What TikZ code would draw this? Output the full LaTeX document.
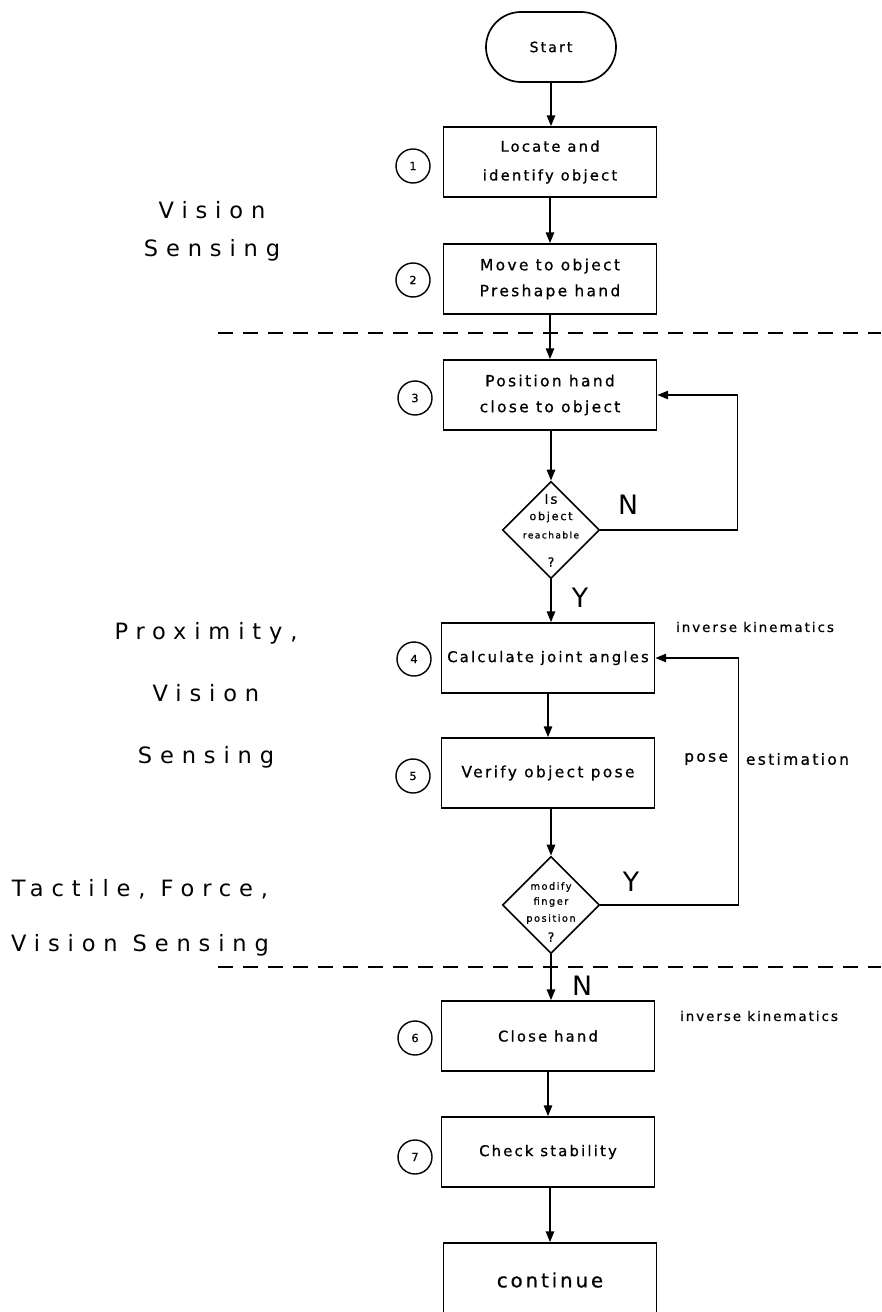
\documentclass[tikz,border=0pt]{standalone}
\usepackage{fontspec}
\setmainfont{DejaVu Sans}[LetterSpace=15,FakeBold=0.8]
\newfontfamily\sidefont{DejaVu Sans}[LetterSpace=35]
\usetikzlibrary{arrows.meta,shapes.geometric,calc}

\begin{document}
\begin{tikzpicture}[x=0.025cm,y=-0.025cm,
  box/.style={draw,line width=1.2pt,minimum width=5.325cm,minimum height=1.75cm,align=center,inner sep=0pt},
  dec/.style={draw,diamond,aspect=1,line width=1.2pt,minimum width=2.43cm,minimum height=2.43cm,inner sep=0pt},
  num/.style={draw,circle,line width=1pt,minimum size=0.85cm,inner sep=0pt,font=\fontsize{8}{8}\selectfont},
  arr/.style={-{Triangle[length=2.7mm,width=2.1mm]},line width=1.1pt},
  sep/.style={line width=1.1pt,dash pattern=on 0.375cm off 0.25cm},
  side/.style={align=center},
  yn/.style={font=\sidefont\fontsize{19}{19}\selectfont}]
\useasboundingbox (0,0) rectangle (881,1312);
\clip (0,0) rectangle (881,1312);

% Schritte
\node[box,rounded corners=0.875cm,minimum width=3.25cm,font=\fontsize{10}{12}\selectfont] (start) at (551,47) {Start};
\node[box,font=\fontsize{10.5}{20.5}\selectfont] (locate) at (550,162) {Locate and\\identify object};
\node[box,font=\fontsize{11}{18.4}\selectfont] (move) at (550,279) {Move to object\\Preshape hand};
\node[box,font=\fontsize{11}{18.4}\selectfont] (pos) at (550,395) {Position hand\\close to object};
\node[dec] (reach) at (551,530) {};
\node[box,font=\fontsize{10.5}{12}\selectfont] (calc) at (548,658) {Calculate joint angles};
\node[box,font=\fontsize{11}{12}\selectfont] (verify) at (548,773) {Verify object pose};
\node[dec] (modf) at (551,905) {};
\node[box,font=\fontsize{10.5}{12}\selectfont] (close) at (548,1036) {Close hand};
\node[box,font=\fontsize{10.5}{12}\selectfont] (check) at (548,1152) {Check stability};
\node[box,minimum height=1.85cm,font=\fontsize{14}{16}\selectfont] (cont) at (550,1280) {continue};

% Text in den Rauten
\node[font=\fontsize{9.5}{9}\selectfont] (reach1) at ($(reach)+(0,-31)$) {Is};
\node[font=\fontsize{8}{8}\selectfont] (reach2) at ($(reach)+(0,-13)$) {object};
\node[font=\fontsize{6.5}{7}\selectfont] (reach3) at ($(reach)+(0,5)$) {reachable};
\node[font=\fontsize{9}{9}\selectfont] (reach4) at ($(reach)+(0,32)$) {?};
\node[font=\fontsize{7}{7}\selectfont] (modf1) at ($(modf)+(0,-18)$) {modify};
\node[font=\fontsize{7}{7}\selectfont] (modf2) at ($(modf)+(0,-3)$) {finger};
\node[font=\fontsize{7}{7}\selectfont] (modf3) at ($(modf)+(0,14)$) {position};
\node[font=\fontsize{9}{9}\selectfont] (modf4) at ($(modf)+(0,32)$) {?};

% Nummern
\node[num] (n1) at (413,166) {1};
\node[num] (n2) at (413,280) {2};
\node[num] (n3) at (415,398) {3};
\node[num] (n4) at (414,659) {4};
\node[num] (n5) at (413,776) {5};
\node[num] (n6) at (415,1038) {6};
\node[num] (n7) at (415,1157) {7};

% Pfeile
\draw[arr] (start) -- (start |- locate.north);
\draw[arr] (locate) -- (move);
\draw[arr] (move) -- (pos);
\draw[arr] (pos.south -| reach) -- (reach.north);
\draw[arr] (reach.south) -- (reach.south |- calc.north);
\draw[arr] (calc) -- (verify);
\draw[arr] (verify.south -| modf) -- (modf.north);
\draw[arr] (modf.south) -- (modf.south |- close.north);
\draw[arr] (close) -- (check);
\draw[arr] (check.south -| cont) -- (cont.north);

% Rueckfuehrungen
\draw[arr] (reach.east) -- ++(137,0) |- (pos.east);
\draw[arr] (modf.east) -- ++(138,0) |- (calc.east);
\node[yn] (no1) at (628,505) {N};
\node[yn] (yes1) at (580,598) {Y};
\node[yn] (yes2) at (631,882) {Y};
\node[yn] (no2) at (582,986) {N};

% Trennlinien
\draw[sep] (218,333) -- (881,333);
\draw[sep] (218,967) -- (881,967);

% Beschriftungen
\node[font=\fontsize{9.5}{9}\selectfont] (ik1) at (755,627) {inverse kinematics};
\node[font=\fontsize{9.5}{9}\selectfont] (ik2) at (759,1016) {inverse kinematics};
\node[anchor=east,font=\fontsize{11}{12}\selectfont] (pose) at (733,759) {pose};
\node[anchor=west,font=\fontsize{11}{12}\selectfont] (est) at (741,759) {estimation};

\node[side,font=\sidefont\fontsize{16}{27}\selectfont] (sense1) at (212,231) {Vision\\Sensing};
\node[side,font=\sidefont\fontsize{16}{44}\selectfont] (sense2) at (206,695) {Proximity,\\Vision\\Sensing};
\node[side,font=\sidefont\fontsize{16}{39}\selectfont] (sense3) at (140,918) {Tactile, Force,\\Vision Sensing};
\end{tikzpicture}
\end{document}
